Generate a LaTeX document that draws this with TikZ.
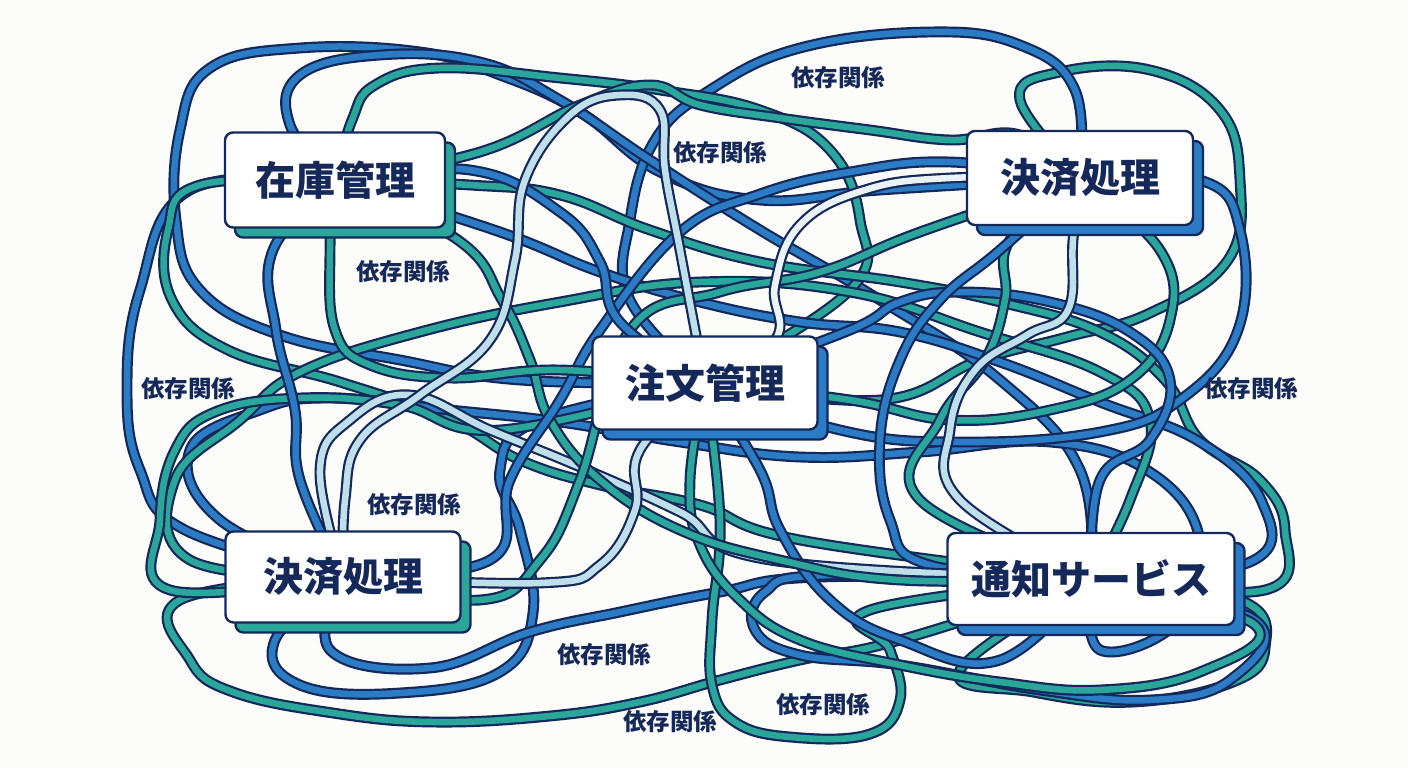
\documentclass[tikz,border=0pt]{standalone}
\usepackage{fontspec}
\newfontfamily\cjk{Noto Sans CJK JP}
\usetikzlibrary{shadows}
\definecolor{navy}{HTML}{14285A}
\definecolor{blueC}{HTML}{2B7CC4}
\definecolor{tealC}{HTML}{2BA69A}
\definecolor{lightC}{HTML}{BFE0EA}
\definecolor{whiteC}{HTML}{EAF4F7}
\definecolor{bgC}{HTML}{FCFCFA}
\pgfdeclarelayer{bg}
\pgfdeclarelayer{tubes}
\pgfsetlayers{bg,tubes,main}
\tikzset{
  tube/.style={line width=2.2pt, double distance=6.5pt, draw=navy, line cap=round, line join=round},
  tb/.style={tube, double=blueC},
  tt/.style={tube, double=tealC},
  tl/.style={tube, double=lightC},
  tw/.style={tube, double=whiteC},
  box/.style={draw=navy, line width=2.4pt, fill=white, rounded corners=8pt, text=navy,
    font=\cjk\bfseries\fontsize{40}{44}\selectfont, inner sep=0pt},
  tshadow/.style={drop shadow={fill=tealC, draw=navy, line width=2.4pt, opacity=1, shadow xshift=10pt, shadow yshift=-10pt}},
  bshadow/.style={drop shadow={fill=blueC, draw=navy, line width=2.4pt, opacity=1, shadow xshift=10pt, shadow yshift=-10pt}},
  dep/.style={text=navy, font=\cjk\bfseries\fontsize{23.5}{26}\selectfont, inner sep=1pt}
}
\begin{document}
\begin{tikzpicture}[x=1pt,y=-1pt]
\useasboundingbox (0,0) rectangle (1408,768);
\begin{pgfonlayer}{bg}
\fill[bgC] (0,0) rectangle (1408,768);
\end{pgfonlayer}
% nodes
\node[box, tshadow, minimum width=220pt, minimum height=95pt] (inv) at (335,180) {在庫管理};
\node[box, bshadow, minimum width=226pt, minimum height=94pt] (payTR) at (1080,178) {決済処理};
\node[box, bshadow, minimum width=225pt, minimum height=93pt] (order) at (705,383) {注文管理};
\node[box, tshadow, minimum width=235pt, minimum height=91pt] (payBL) at (343,577) {決済処理};
\node[box, bshadow, minimum width=287pt, minimum height=92pt] (notify) at (1091,579) {通知サービス};
% labels
\node[dep] (l1) at (838,78) {依存関係};
\node[dep] (l2) at (720,153) {依存関係};
\node[dep] (l3) at (403,272) {依存関係};
\node[dep] (l4) at (188,389) {依存関係};
\node[dep] (l5) at (1251,389) {依存関係};
\node[dep] (l6) at (414,505) {依存関係};
\node[dep] (l7) at (604,655) {依存関係};
\node[dep] (l8) at (823,705) {依存関係};
\node[dep] (l9) at (670,722) {依存関係};
\begin{pgfonlayer}{tubes}
\draw[tb] plot[smooth, tension=0.7] coordinates {(order.center) (520,380) (400,360) (280,335) (200,290) (176,220) (180,130) (210,68) (300,48) (420,52) (500,75) (580,112) (660,172) (760,200) (880,190) (payTR.center)};
\draw[tb] plot[smooth, tension=0.7] coordinates {(inv.center) (190,190) (140,290) (127,390) (140,470) (185,530) (payBL.center)};
\draw[tt] plot[smooth, tension=0.7] coordinates {(inv.center) (200,185) (168,230) (172,300) (228,350) (340,382) (450,420) (520,460) (600,485) (700,505) (800,540) (notify.center)};
\draw[tt] plot[smooth, tension=0.7] coordinates {(payBL.center) (180,600) (190,660) (233,692) (333,713) (433,722) (550,716) (640,702) (720,680) (800,660) (900,640) (notify.center)};
\draw[tb] plot[smooth, tension=0.7] coordinates {(payBL.center) (275,640) (300,685) (400,693) (500,672) (533,613) (520,530) (500,470) (540,420) (order.center)};
\draw[tt] plot[smooth, tension=0.7] coordinates {(notify.center) (1240,600) (1265,648) (1233,682) (1133,702) (1033,692) (960,670) (notify.center)};
\draw[tt] plot[smooth, tension=0.7] coordinates {(payTR.center) (1020,100) (1060,72) (1150,70) (1220,110) (1240,180) (1228,260) (1150,313) (1067,337) (980,360) (880,400) (order.center)};
\draw[tb] plot[smooth, tension=0.7] coordinates {(order.center) (630,300) (630,220) (655,140) (710,90) (800,48) (930,32) (1020,45) (1075,90) (payTR.center)};
\draw[tb] plot[smooth, tension=0.7] coordinates {(inv.center) (290,125) (300,75) (380,55) (480,62) (560,100) (650,160) (760,230) (880,300) (1000,380) (1080,470) (notify.center)};
\draw[tt] plot[smooth, tension=0.7] coordinates {(inv.center) (352,120) (375,85) (440,68) (560,78) (660,90) (760,110) (830,150) (860,220) (850,290) (order.center)};
\draw[tt] plot[smooth, tension=0.7] coordinates {(inv.center) (470,185) (560,195) (650,230) (760,262) (900,282) (1000,302) (1100,332) (1165,380) (1200,440) (1260,480) (1285,530) (1265,590) (notify.center)};
\draw[tb] plot[smooth, tension=0.7] coordinates {(inv.center) (500,232) (600,272) (700,302) (800,322) (900,332) (1000,362) (1100,402) (1200,442) (1262,502) (1250,562) (notify.center)};
\draw[tb] plot[smooth, tension=0.7] coordinates {(payBL.center) (220,520) (190,450) (260,410) (330,398) (450,410) (560,422) (680,442) (800,457) (920,452) (1050,442) (1150,472) (1200,540) (1180,620) (1100,650) (notify.center)};
\draw[tt] plot[smooth, tension=0.7] coordinates {(payBL.center) (190,560) (175,480) (240,420) (300,372) (420,332) (560,302) (700,282) (850,292) (980,332) (1100,372) (1150,420) (1130,500) (notify.center)};
\draw[tt] plot[smooth, tension=0.7] coordinates {(payBL.center) (170,590) (160,520) (175,450) (215,412) (300,398) (400,405) (500,430) (order.center)};
\draw[tb] plot[smooth, tension=0.7] coordinates {(payBL.center) (330,650) (430,668) (530,632) (620,612) (720,592) (820,577) (notify.center)};
\draw[tb] plot[smooth, tension=0.7] coordinates {(notify.center) (830,575) (765,592) (755,630) (800,655) (900,665) (1040,690) (1150,700) (1230,680) (1255,620) (notify.center)};
\draw[tt] plot[smooth, tension=0.7] coordinates {(order.center) (720,520) (712,620) (712,685) (735,722) (790,737) (870,734) (900,700) (890,650) (870,610) (notify.center)};
\draw[tt] plot[smooth, tension=0.7] coordinates {(order.center) (690,480) (700,545) (740,600) (800,640) (900,665) (1000,682) (1100,690) (1200,672) (1255,625) (notify.center)};
\draw[tb] plot[smooth, tension=0.7] coordinates {(order.center) (760,470) (780,530) (830,600) (900,640) (1000,660) (notify.center)};
\draw[tb] plot[smooth, tension=0.7] coordinates {(payTR.center) (1200,180) (1240,230) (1238,330) (1180,400) (1100,432) (960,442) (840,430) (order.center)};
\draw[tt] plot[smooth, tension=0.7] coordinates {(order.center) (850,400) (950,420) (1050,410) (1130,380) (1170,320) (1160,250) (payTR.center)};
\draw[tb] plot[smooth, tension=0.7] coordinates {(order.center) (850,330) (900,302) (960,292) (1050,302) (1130,332) (1170,380) (1150,440) (1100,480) (notify.center)};
\draw[tt] plot[smooth, tension=0.7] coordinates {(payTR.center) (1010,240) (1005,300) (985,360) (940,420) (920,500) (notify.center)};
\draw[tb] plot[smooth, tension=0.7] coordinates {(payTR.center) (1000,250) (940,300) (900,360) (880,440) (890,520) (930,565) (notify.center)};
\draw[tl] plot[smooth, tension=0.7] coordinates {(payTR.center) (1073,240) (1068,310) (1027,335) (975,370) (950,430) (960,500) (notify.center)};
\draw[tl] plot[smooth, tension=0.7] coordinates {(payBL.center) (320,470) (350,420) (410,395) (490,430) (580,467) (680,512) (770,560) (notify.center)};
\draw[tt] plot[smooth, tension=0.7] coordinates {(inv.center) (458,240) (502,300) (530,360) (550,420) (600,480) (680,530) (780,560) (900,580) (notify.center)};
\draw[tb] plot[smooth, tension=0.7] coordinates {(payBL.center) (490,560) (510,480) (560,400) (600,330) (680,232) (760,194) (850,172) (950,162) (payTR.center)};
\draw[tt] plot[smooth, tension=0.7] coordinates {(payBL.center) (480,600) (540,560) (580,480) (630,330) (720,292) (820,272) (920,232) (payTR.center)};
\draw[tb] plot[smooth, tension=0.7] coordinates {(inv.center) (470,170) (560,212) (600,262) (620,322) (order.center)};
\draw[tt] plot[smooth, tension=0.7] coordinates {(inv.center) (480,152) (580,105) (650,85) (700,105) (780,118) (870,130) (950,140) (1020,135) (payTR.center)};
\draw[tb] plot[smooth, tension=0.7] coordinates {(inv.center) (273,250) (276,330) (295,410) (300,480) (payBL.center)};
\draw[tt] plot[smooth, tension=0.7] coordinates {(inv.center) (330,250) (335,330) (370,365) (450,378) (560,370) (order.center)};
\draw[tl] plot[smooth, tension=0.7] coordinates {(payBL.center) (345,500) (360,440) (420,395) (490,340) (515,260) (525,180) (570,115) (620,95) (660,110) (665,170) (680,250) (order.center)};
\draw[tl] plot[smooth, tension=0.7] coordinates {(order.center) (640,450) (635,510) (600,565) (540,583) (payBL.center)};
\draw[tw] plot[smooth, tension=0.7] coordinates {(payTR.center) (950,178) (865,190) (800,225) (775,285) (775,340) (order.center)};
\end{pgfonlayer}
\end{tikzpicture}
\end{document}
